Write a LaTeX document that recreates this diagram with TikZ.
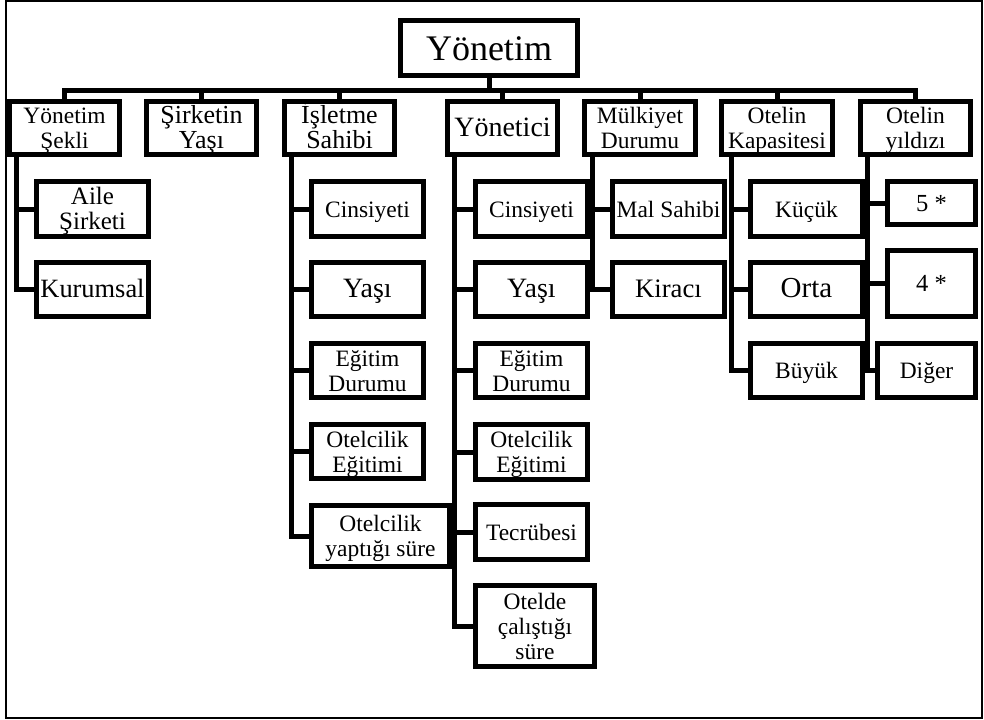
\documentclass[tikz,border=0pt]{standalone}
\usepackage{fontspec}
\setmainfont{Liberation Serif}
\usetikzlibrary{calc}
% invisible rules fixing the first baseline (top) and the last one (bottom) of a box
\newcommand\sx{\rule{0pt}{16.5pt}}
\newcommand\ex{\rule[-4.5pt]{0pt}{4.5pt}}
\newcommand\tx{\rule{0pt}{26pt}}
\newcommand\tex{\rule[-8pt]{0pt}{8pt}}
\begin{document}
\begin{tikzpicture}[x=0.75pt,y=-0.75pt,
  box/.style={draw, line width=3.75pt, rectangle, inner sep=0pt, align=center,
    minimum width=84pt, minimum height=41pt,
    font=\fontsize{17.6}{18.75}\selectfont},
  top/.style={box, minimum width=83pt, minimum height=39.75pt},
  fs/.style={font=\fontsize{#1}{18.75}\selectfont},
  conn/.style={line width=3.75pt},
  frame/.style={line width=1.5pt}]
\useasboundingbox (0,0) rectangle (984,719);
\draw[frame] (6,1) rectangle (982,718);

% root
\node[box, minimum width=132.75pt, minimum height=41.25pt,
      font=\fontsize{27}{30}\selectfont] (title) at (489,48) {\tx Yönetim\tex};

% first level
\node[top] (ys) at (64.5,128) {\sx Yönetim\\Şekli\ex};
\node[top, fs=19.5] (sy) at (201.5,128) {\sx Şirketin\\Yaşı\ex};
\node[top, fs=19.5] (is) at (339.5,128) {\sx İşletme\\Sahibi\ex};
\node[top, fs=21] (yo) at (502.5,128) {\sx Yönetici\ex};
\node[top] (md) at (640,128) {\sx Mülkiyet\\Durumu\ex};
\node[top] (ok) at (777,128) {\sx Otelin\\Kapasitesi\ex};
\node[top] (oy) at (915.5,128) {\sx Otelin\\yıldızı\ex};

% Yönetim Şekli
\node[box, fs=18.75] (aile) at (92.5,209) {\sx Aile\\Şirketi\ex};
\node[box, fs=19.8] (kur) at (92.5,289.5) {\sx Kurumsal\ex};

% İşletme Sahibi
\node[box] (cins1) at (367.5,209) {\sx Cinsiyeti\ex};
\node[box, fs=21] (yas1) at (367.5,289.5) {\sx Yaşı\ex};
\node[box] (egd1) at (367.5,370.5) {\sx Eğitim\\Durumu\ex};
\node[box] (ote1) at (367.5,451.5) {\sx Otelcilik\\Eğitimi\ex};
\node[box, minimum width=103.5pt, minimum height=45.75pt] (oys) at (380.5,536) {\sx Otelcilik\\yaptığı süre\ex};

% Yönetici
\node[box] (cins2) at (531.5,209) {\sx Cinsiyeti\ex};
\node[box, fs=21] (yas2) at (531.5,289.5) {\sx Yaşı\ex};
\node[box] (egd2) at (531.5,370.5) {\sx Eğitim\\Durumu\ex};
\node[box] (ote2) at (531.5,452) {\sx Otelcilik\\Eğitimi\ex};
\node[box] (tec) at (531.5,532) {\sx Tecrübesi\ex};
\node[box, minimum width=89.25pt, minimum height=60.75pt] (ocs) at (535,626) {\sx Otelde\\çalıştığı\\süre\ex};

% Mülkiyet Durumu
\node[box] (mal) at (668.5,209) {\sx Mal Sahibi\ex};
\node[box, fs=20] (kir) at (668.5,289.5) {\sx Kiracı\ex};

% Otelin Kapasitesi
\node[box] (kuc) at (806.5,209) {\sx Küçük\ex};
\node[box, fs=21.75] (ort) at (806.5,289.5) {\sx Orta\ex};
\node[box] (buy) at (806.5,370.5) {\sx Büyük\ex};

% Otelin yıldızı
\node[box, minimum width=66pt, minimum height=32.25pt, fs=18.4] (five) at (931.5,203) {\sx 5 *\ex};
\node[box, minimum width=66pt, minimum height=49.5pt, fs=18.4] (four) at (931.5,283.5) {\sx 4 *\ex};
\node[box, minimum width=73.5pt, minimum height=40.5pt] (dig) at (926.5,370.5) {\sx Diğer\ex};

% bus from the root to the first level
\coordinate (bus) at ($(title.south)+(0,12.5)$);
\draw[conn] (title.south) -- (bus);
\foreach \n in {ys,sy,is,yo,md,ok,oy}
  \draw[conn] (bus) -| (\n.north);

% branches down to the second level
\foreach \p/\d/\kids in {ys/9.5/{aile,kur},
                          is/9.5/{cins1,yas1,egd1,ote1,oys},
                          yo/9.5/{cins2,yas2,egd2,ote2,tec,ocs},
                          md/10.5/{mal,kir},
                          ok/12.5/{kuc,ort,buy},
                          oy/9.5/{five,four,dig}}
  \foreach \c in \kids
    \draw[conn] ($(\p.south west)+(\d,0)$) |- (\c.west);
\end{tikzpicture}
\end{document}
